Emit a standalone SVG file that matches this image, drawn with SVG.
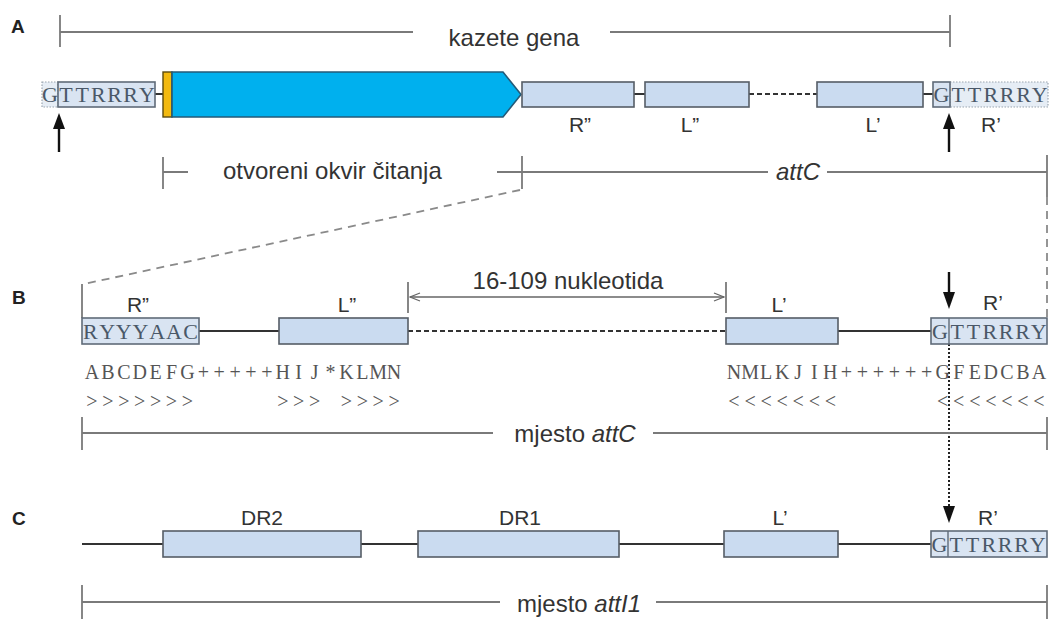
<svg xmlns="http://www.w3.org/2000/svg" width="1050" height="619" viewBox="0 0 1050 619">
<style>
.lbl{font-family:"Liberation Sans",Arial,sans-serif;font-size:24px;fill:#333}
.sm{font-family:"Liberation Sans",Arial,sans-serif;font-size:21px;fill:#333;text-anchor:middle}
.panel{font-family:"Liberation Sans",Arial,sans-serif;font-size:19px;font-weight:bold;fill:#222}
.seq{font-family:"Liberation Serif","Times New Roman",serif;font-size:22px;fill:#4a5868;text-anchor:middle}
.seq2{font-family:"Liberation Serif","Times New Roman",serif;font-size:20px;fill:#555;text-anchor:middle}
.box{fill:#cadbf0;stroke:#555d66;stroke-width:1.6}
.sbox{fill:#d9e4f2;stroke:#5f6b78;stroke-width:1.6}
.dbox{fill:#e6edf5;stroke:#9aa5b0;stroke-width:1.2;stroke-dasharray:1.5,1.5}
.scale{stroke:#7a7a7a;stroke-width:1.8;fill:none}
.dna{stroke:#333;stroke-width:2.2;fill:none}
.dnad{stroke:#333;stroke-width:2.2;fill:none;stroke-dasharray:5,3}
.zoom{stroke:#8a8a8a;stroke-width:1.8;fill:none;stroke-dasharray:8,6}
.cut{stroke:#111;stroke-width:2.4;fill:none}
.head{fill:#111}
</style>
<defs>
<marker id="chev" viewBox="0 0 12 10" markerWidth="12" markerHeight="10" refX="11" refY="5" orient="auto-start-reverse" markerUnits="userSpaceOnUse">
<path d="M1,1 L11,5 L1,9" fill="none" stroke="#666" stroke-width="1.3"/>
</marker>
</defs>
<rect width="1050" height="619" fill="#fff"/>

<g id="panel-labels">
<text class="panel" x="11" y="33">A</text>
<text class="panel" x="12" y="304">B</text>
<text class="panel" x="12" y="525">C</text>
</g>

<g id="connectors">
<!-- A scale: kazete gena -->
<path class="scale" d="M60,15 V47 M950,15 V47 M60,32 H413 M610,32 H950"/>
<!-- A DNA links -->
<path class="dna" d="M155,94 H163 M634,94 H645 M923,94 H933"/>
<path class="dnad" d="M749,94 H817"/>
<!-- A cut arrows -->
<path class="cut" d="M59,152 V127"/>
<polygon class="head" points="53,129 65,129 59,113"/>
<path class="cut" d="M949,152 V127"/>
<polygon class="head" points="943,129 955,129 949,113"/>
<!-- ORF / attC scale -->
<path class="scale" d="M163,157 V189 M163,172 H188 M497,172 H768 M827,172 H1047 M522,156 V189 M1047,155 V197"/>
<!-- zoom lines -->
<path class="zoom" d="M520,190 L84,284"/>
<path class="scale" d="M82,284 V318"/>
<path class="zoom" d="M1047,197 V318"/>
<!-- B DNA -->
<path class="dna" d="M199,331 H279 M838,331 H931"/>
<path class="dnad" d="M408,331 H726"/>
<!-- B dimension -->
<path class="scale" d="M408,282 V313 M726,282 V313"/>
<path d="M410,297 H724" stroke="#666" stroke-width="1.4" fill="none" marker-start="url(#chev)" marker-end="url(#chev)"/>
<!-- B cut arrow -->
<path class="cut" d="M949,272 V294"/>
<polygon class="head" points="943,292 955,292 949,309"/>
<!-- dotted to C -->
<path d="M949,344 V507" stroke="#222" stroke-width="2" stroke-dasharray="2,2" fill="none"/>
<polygon class="head" points="943,506 955,506 949,523"/>
<!-- mjesto attC scale -->
<path class="scale" d="M82,417 V450 M1047,417 V450 M82,433 H493 M653,433 H1047"/>
<!-- C DNA -->
<path class="dna" d="M82,544 H163 M361,544 H418 M619,544 H724 M838,544 H931"/>
<!-- mjesto attI1 scale -->
<path class="scale" d="M82,585 V619 M1047,585 V619 M82,602 H500 M656,602 H1047"/>
</g>

<g id="scale-labels">
<text class="lbl" x="514" y="46" text-anchor="middle">kazete gena</text>
<text class="lbl" x="223" y="179">otvoreni okvir čitanja</text>
<text class="lbl" x="798" y="180" text-anchor="middle" font-style="italic" font-size="22">attC</text>
<text class="lbl" x="568" y="289" text-anchor="middle" font-size="22">16-109 nukleotida</text>
<text class="lbl" x="575" y="442" text-anchor="middle">mjesto <tspan font-style="italic">attC</tspan></text>
<text class="lbl" x="579" y="612" text-anchor="middle">mjesto <tspan font-style="italic">attI1</tspan></text>
</g>

<!-- Row A -->
<g id="A-left-site">
<rect class="dbox" x="42" y="82" width="16" height="25"/>
<rect class="sbox" x="58" y="82" width="97" height="25"/>
<text class="seq" x="50 66.1 82.3 98.4 114.6 130.7 146.9" y="102">GTTRRRY</text>
</g>
<g id="A-start">
<rect x="163" y="72" width="9" height="45" fill="#f2b90f" stroke="#5a4a10" stroke-width="1.4"/>
</g>
<g id="A-orf">
<path d="M172,72 H503 L521,94.5 L503,117 H172 Z" fill="#00b0ee" stroke="#245a78" stroke-width="1.6"/>
</g>
<g id="A-R2">
<rect class="box" x="522" y="82" width="112" height="25"/>
<text class="sm" x="580" y="132">R”</text>
</g>
<g id="A-L2">
<rect class="box" x="645" y="82" width="104" height="25"/>
<text class="sm" x="690" y="132">L”</text>
</g>
<g id="A-L1">
<rect class="box" x="817" y="82" width="106" height="25"/>
<text class="sm" x="873" y="132">L’</text>
</g>
<g id="A-right-site">
<rect class="dbox" x="950" y="82" width="98" height="25"/>
<rect class="sbox" x="933" y="82" width="17" height="25"/>
<text class="seq" x="941.5 958.2 974.5 990.8 1007.2 1023.5 1039.8" y="102">GTTRRRY</text>
<text class="sm" x="991" y="132">R’</text>
</g>

<!-- Row B -->
<g id="B-R2">
<rect class="sbox" x="82" y="318" width="117" height="26"/>
<text class="seq" x="90.4 107.1 123.8 140.5 157.2 173.9 190.6" y="339">RYYYAAC</text>
<text class="sm" x="138" y="312">R”</text>
</g>
<g id="B-L2">
<rect class="box" x="279" y="318" width="129" height="26"/>
<text class="sm" x="347" y="312">L”</text>
</g>
<g id="B-L1">
<rect class="box" x="726" y="318" width="112" height="26"/>
<text class="sm" x="779" y="312">L’</text>
</g>
<g id="B-R1">
<rect class="sbox" x="931" y="318" width="116" height="26"/>
<line x1="949" y1="318" x2="949" y2="344" stroke="#5f6b78" stroke-width="1.4"/>
<text class="seq" x="940 957.2 973.5 989.8 1006.2 1022.5 1038.8" y="339">GTTRRRY</text>
<text class="sm" x="993" y="310">R’</text>
</g>
<g id="B-sequence">
<text class="seq2" x="92 107.9 123.8 139.7 155.6 171.5 187.4 203.3 219.2 235.1 251 266.9 282.8 298.7 314.6 330.5 346.4 362.3 378.2 394.1" y="379">ABCDEFG+++++HIJ*KLMN</text>
<text class="seq2" xml:space="preserve" x="92 107.9 123.8 139.7 155.6 171.5 187.4 203.3 219.2 235.1 251 266.9 282.8 298.7 314.6 330.5 346.4 362.3 378.2 394.1" y="408">&gt;&gt;&gt;&gt;&gt;&gt;&gt;     &gt;&gt;&gt; &gt;&gt;&gt;&gt;</text>
<text class="seq2" x="734 750.1 766.1 782.2 798.2 814.3 830.3 846.4 862.4 878.5 894.5 910.6 926.6 942.7 958.7 974.8 990.8 1006.9 1022.9 1039" y="379">NMLKJIH++++++GFEDCBA</text>
<text class="seq2" xml:space="preserve" x="734 750.1 766.1 782.2 798.2 814.3 830.3 846.4 862.4 878.5 894.5 910.6 926.6 942.7 958.7 974.8 990.8 1006.9 1022.9 1039" y="408">&lt;&lt;&lt;&lt;&lt;&lt;&lt;      &lt;&lt;&lt;&lt;&lt;&lt;&lt;</text>
</g>

<!-- Row C -->
<g id="C-DR2">
<rect class="box" x="163" y="531" width="198" height="26"/>
<text class="sm" x="262" y="525">DR2</text>
</g>
<g id="C-DR1">
<rect class="box" x="418" y="531" width="201" height="26"/>
<text class="sm" x="520" y="525">DR1</text>
</g>
<g id="C-L1">
<rect class="box" x="724" y="531" width="114" height="26"/>
<text class="sm" x="780" y="525">L’</text>
</g>
<g id="C-R1">
<rect class="sbox" x="931" y="531" width="116" height="26"/>
<line x1="948" y1="531" x2="948" y2="557" stroke="#5f6b78" stroke-width="1.4"/>
<text class="seq" x="939.5 956.2 972.5 988.8 1005.2 1021.5 1037.8" y="552">GTTRRRY</text>
<text class="sm" x="988" y="525">R’</text>
</g>
</svg>
